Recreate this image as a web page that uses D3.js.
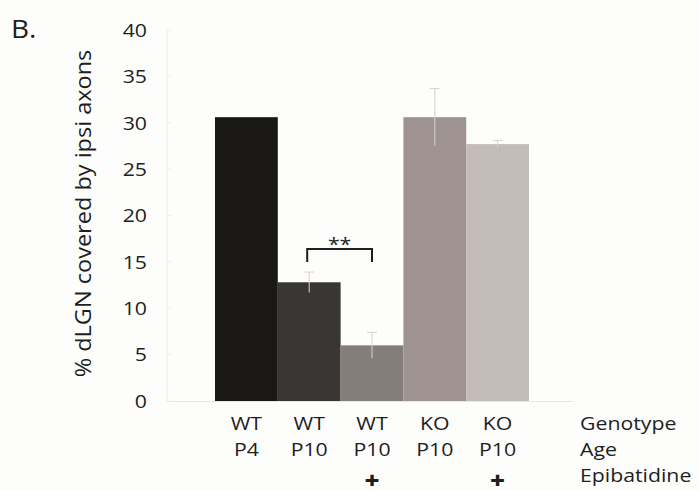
<!DOCTYPE html>
<html>
<head>
<meta charset="utf-8">
<script src="https://cdn.jsdelivr.net/npm/d3@7"></script>
<style>
body { margin: 0; background: #fdfdfb; }
text { font-family: "Open Sans", "Noto Sans", sans-serif; fill: #1e1e1e; }
</style>
</head>
<body>
<div id="chart-area"></div>
<script>
const width = 699, height = 491;
const margin = {top: 30, right: 170, bottom: 90, left: 167};
const stretch = 1.12; // 原图文字略宽

// data
const groups = ["WT P4", "WT P10", "WT P10 +", "KO P10", "KO P10 +"];
const genotype = ["WT", "WT", "WT", "KO", "KO"];
const age = ["P4", "P10", "P10", "P10", "P10"];
const epibatidine = ["", "", "+", "", "+"];
const values = [30.6, 12.8, 6.0, 30.6, 27.7];
const errors = [0, 1.1, 1.4, 3.1, 0.4];
const colors = ["#1a1816", "#3a3634", "#857d7a", "#9e9391", "#c4bcb9"];
const yTicks = [0, 5, 10, 15, 20, 25, 30, 35, 40];
const rowNames = ["Genotype", "Age", "Epibatidine"];

var svg = d3.select("#chart-area").append("svg")
	.attr("width", width)
	.attr("height", height);

var x = d3.scaleBand()
	.domain(groups)
	.range([215, 529])
	.padding(0);

var y = d3.scaleLinear()
	.domain([0, 40])
	.range([401, 30]);

// 坐标轴 (very faint)
svg.append("line")
	.attr("x1", margin.left).attr("x2", margin.left)
	.attr("y1", y(40)).attr("y2", y(0))
	.attr("stroke", "#ecece8").attr("stroke-width", 1);
svg.append("line")
	.attr("x1", margin.left).attr("x2", 573)
	.attr("y1", y(0) + 0.5).attr("y2", y(0) + 0.5)
	.attr("stroke", "#e6e6e2").attr("stroke-width", 1);
svg.selectAll(".tick-mark")
	.data(yTicks)
	.enter().append("line")
	.attr("x1", margin.left).attr("x2", margin.left + 4)
	.attr("y1", d => y(d)).attr("y2", d => y(d))
	.attr("stroke", "#ecece8");
svg.selectAll(".tick-label")
	.data(yTicks)
	.enter().append("text")
	.attr("transform", d => `translate(147,${y(d)}) scale(${stretch},1)`)
	.attr("dy", "0.36em")
	.attr("text-anchor", "end")
	.style("font-size", "19px")
	.text(d => d);

// 柱子
svg.selectAll(".bar")
	.data(groups)
	.enter().append("rect")
	.attr("x", d => x(d))
	.attr("y", (d, i) => y(values[i]))
	.attr("width", x.bandwidth())
	.attr("height", (d, i) => y(0) - y(values[i]))
	.attr("fill", (d, i) => colors[i]);

// 误差线
var err = svg.selectAll(".err")
	.data(groups.filter((d, i) => errors[i] > 0))
	.enter().append("g");
err.append("line")
	.attr("x1", d => x(d) + x.bandwidth() / 2)
	.attr("x2", d => x(d) + x.bandwidth() / 2)
	.attr("y1", d => y(values[groups.indexOf(d)] + errors[groups.indexOf(d)]))
	.attr("y2", d => y(values[groups.indexOf(d)] - errors[groups.indexOf(d)]))
	.attr("stroke", "#d6d2d0").attr("stroke-width", 1);
err.append("line")
	.attr("x1", d => x(d) + x.bandwidth() / 2 - 5)
	.attr("x2", d => x(d) + x.bandwidth() / 2 + 5)
	.attr("y1", d => y(values[groups.indexOf(d)] + errors[groups.indexOf(d)]))
	.attr("y2", d => y(values[groups.indexOf(d)] + errors[groups.indexOf(d)]))
	.attr("stroke", "#d6d2d0").attr("stroke-width", 1);

// 显著性标记
var bx1 = x(groups[1]) + x.bandwidth() / 2 - 2;
var bx2 = x(groups[2]) + x.bandwidth() / 2;
svg.append("path")
	.attr("d", `M${bx1},${y(15.0)}V${y(16.4)}H${bx2}V${y(15.0)}`)
	.attr("fill", "none")
	.attr("stroke", "#1e1e1e")
	.attr("stroke-width", 2);
svg.append("text")
	.attr("transform", `translate(${(bx1 + bx2) / 2},${y(16.4) + 2}) scale(${stretch},1)`)
	.attr("text-anchor", "middle")
	.style("font-size", "19px")
	.text("**");

// x轴标签
var rows = [genotype, age, epibatidine];
var rowY = [430, 456, 489];
rows.forEach((row, r) => {
	svg.selectAll(".row" + r)
		.data(groups)
		.enter().append("text")
		.attr("transform", d => `translate(${x(d) + x.bandwidth() / 2},${rowY[r]}) scale(${stretch},1)`)
		.attr("text-anchor", "middle")
		.style("font-size", r == 2 ? "23px" : "19px")
		.style("font-weight", r == 2 ? "800" : "normal")
		.text((d, i) => row[i]);
	svg.append("text")
		.attr("transform", `translate(580,${r == 2 ? 482 : rowY[r]}) scale(${stretch},1)`)
		.style("font-size", "19px")
		.text(rowNames[r]);
});

// y轴标题
svg.append("text")
	.attr("transform", `translate(91,${(y(0) + y(40)) / 2 - 2}) rotate(-90) scale(${stretch},1)`)
	.attr("text-anchor", "middle")
	.style("font-size", "21px")
	.text("% dLGN covered by ipsi axons");

svg.append("text")
	.attr("transform", `translate(11,38) scale(${stretch},1)`)
	.style("font-size", "25px")
	.text("B.");
</script>
</body>
</html>
